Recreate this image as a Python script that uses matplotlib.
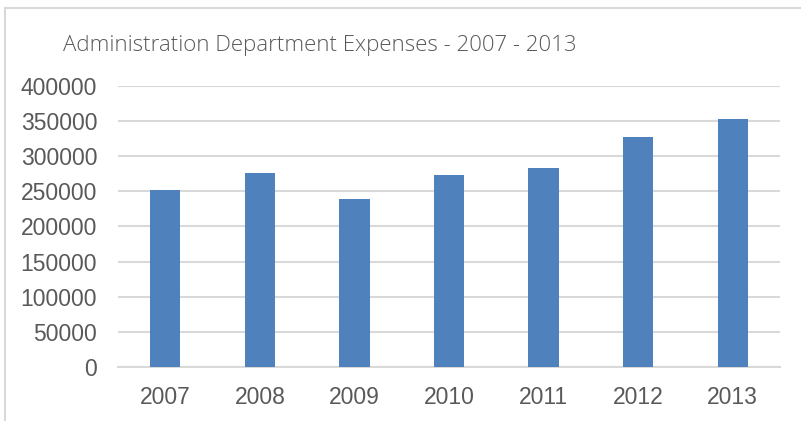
import matplotlib.pyplot as plt
from matplotlib.patches import Rectangle

# expenses per year
years = ['2007', '2008', '2009', '2010', '2011', '2012', '2013']
expenses = [252000, 276000, 239000, 273000, 283000, 328000, 353000]
yticks = [0, 50000, 100000, 150000, 200000, 250000, 300000, 350000, 400000]

text_color = '#595959'
grid_color = '#d9d9d9'
bar_color = '#4f81bd'

plt.rcParams['font.family'] = ['Liberation Sans Narrow', 'Liberation Sans', 'DejaVu Sans']

fig = plt.figure(figsize=(8.01, 4.21), dpi=100)
ax = fig.add_axes([118/801, 54/421, 662/801, 281/421])

ax.bar(range(len(years)), expenses, width=0.32, color=bar_color, zorder=3)

ax.set_xlim(-0.5, len(years) - 0.5)
ax.set_ylim(0, 400000)
ax.set_yticks(yticks)
ax.set_yticklabels([str(v) for v in yticks])
ax.set_xticks(range(len(years)))
ax.set_xticklabels(years)

ax.grid(axis='y', color=grid_color, linewidth=1.5, zorder=0)
for s in ['top', 'right', 'left']:
    ax.spines[s].set_visible(False)
ax.spines['bottom'].set_color(grid_color)
ax.spines['bottom'].set_linewidth(1.5)
ax.tick_params(axis='both', length=0, labelsize=16.5, labelcolor=text_color)
ax.tick_params(axis='y', pad=15)
ax.tick_params(axis='x', pad=14)

fig.text(63/801, 1 - 45/421, 'Administration Department Expenses - 2007 - 2013',
         fontsize=16, color=text_color, va='center', ha='left',
         family=['Open Sans', 'DejaVu Sans'], fontweight='light')

# outer chart frame
fig.patches.append(Rectangle((5/801, -0.1), 1.2, 1.1 - 8/421, transform=fig.transFigure,
                             fill=False, edgecolor=grid_color, linewidth=1.5))

fig.savefig('out.png', dpi=100)
